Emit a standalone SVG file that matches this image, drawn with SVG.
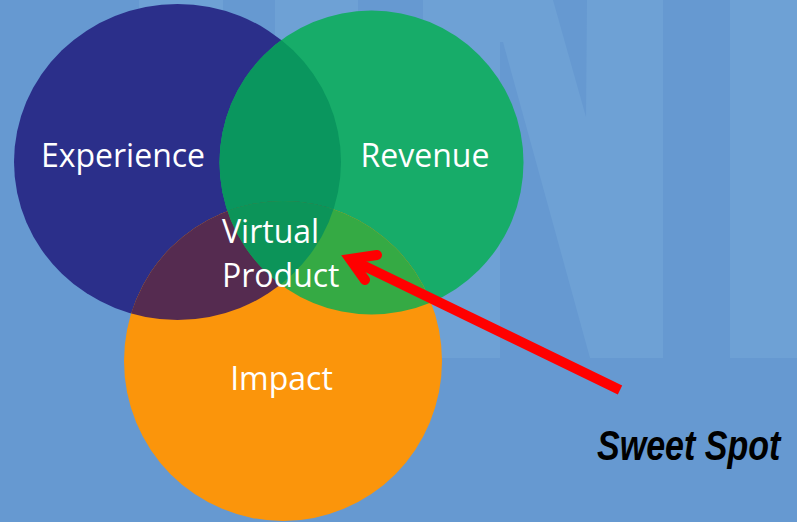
<svg xmlns="http://www.w3.org/2000/svg" width="797" height="522" viewBox="0 0 797 522">
  <style>
    .wm { fill: #6ea1d5; }
    .label { font-family: "Open Sans", "Noto Sans", sans-serif; font-size: 32px; fill: #ffffff; }
    .callout { font-family: "Liberation Sans", Arial, sans-serif; font-size: 42px; font-weight: bold; font-style: italic; fill: #000000; }
    .arrow { fill: none; stroke: #ff0000; stroke-width: 10; }
  </style>
  <defs>
    <clipPath id="clip-exp"><ellipse cx="177.5" cy="162" rx="163.5" ry="158"/></clipPath>
    <clipPath id="clip-rev"><circle cx="371.5" cy="162.5" r="152"/></clipPath>
    <clipPath id="clip-imp"><ellipse cx="283" cy="361" rx="159" ry="160"/></clipPath>
  </defs>

  <!-- background -->
  <rect width="797" height="522" fill="#6699d1"/>

  <!-- faint lettering behind the chart -->
  <g id="watermark">
    <rect class="wm" x="139" y="0" width="84" height="358"/>
    <rect class="wm" x="275" y="0" width="83" height="358"/>
    <polygon class="wm" points="423,0 553,0 586,117 587,0 663,0 663,358 590,358 503,42 500,42 500,358 423,358"/>
    <rect class="wm" x="730" y="0" width="67" height="358"/>
  </g>

  <!-- circles -->
  <g id="experience">
    <ellipse cx="177.5" cy="162" rx="163.5" ry="158" fill="#2b2f8a"/>
  </g>
  <g id="revenue">
    <circle cx="371.5" cy="162.5" r="152" fill="#17ac69"/>
  </g>
  <g id="impact">
    <ellipse cx="283" cy="361" rx="159" ry="160" fill="#fb950b"/>
  </g>

  <!-- overlaps -->
  <g id="overlaps">
    <g clip-path="url(#clip-exp)">
      <circle cx="371.5" cy="162.5" r="152" fill="#0a965e"/>
      <ellipse cx="283" cy="361" rx="159" ry="160" fill="#552b50"/>
    </g>
    <g clip-path="url(#clip-rev)">
      <ellipse cx="283" cy="361" rx="159" ry="160" fill="#35aa44"/>
    </g>
    <g clip-path="url(#clip-exp)">
      <g clip-path="url(#clip-rev)">
        <ellipse cx="283" cy="361" rx="159" ry="160" fill="#0c9459"/>
      </g>
    </g>
  </g>

  <!-- labels -->
  <g id="labels">
    <text class="label" x="123" y="167" text-anchor="middle">Experience</text>
    <text class="label" x="425" y="167" text-anchor="middle">Revenue</text>
    <text class="label" x="281.5" y="390" text-anchor="middle">Impact</text>
    <text class="label" x="222" y="243">Virtual</text>
    <text class="label" x="222" y="287">Product</text>
  </g>

  <!-- pointer -->
  <g id="connectors">
    <path class="arrow" d="M352,260 L620,390"/>
    <path class="arrow" d="M377,255 L350,259 L365,280" stroke-linecap="round" stroke-linejoin="miter"/>
  </g>

  <g id="sweet-spot">
    <text class="callout" transform="translate(597,460) scale(0.81,1)">Sweet Spot</text>
  </g>
</svg>
